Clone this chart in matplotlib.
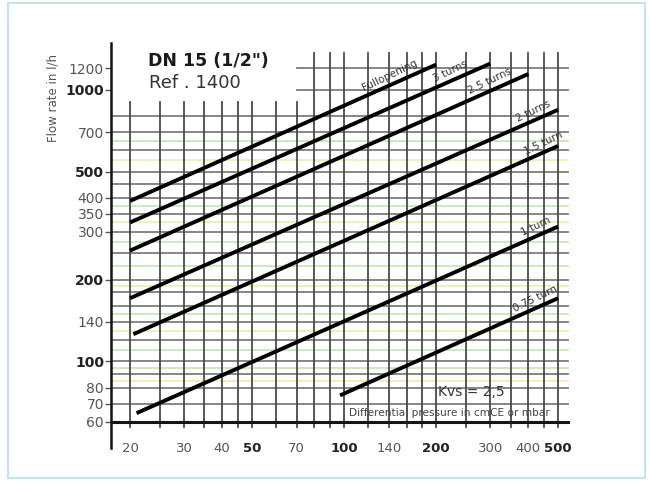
import numpy as np
import matplotlib
matplotlib.use("Agg")
import matplotlib.pyplot as plt
from matplotlib.patches import Rectangle
from matplotlib.transforms import blended_transform_factory

# ---- data ----
series_names = ["Fullopening", "3 turns", "2.5 turns", "2 turns", "1.5 turn", "1 turn", "0.75 turn"]
dp_full, q_full = [20, 200], [390, 1240]
dp_3, q_3 = [20, 300], [325, 1250]
dp_25, q_25 = [20, 400], [256, 1145]
dp_2, q_2 = [20, 500], [171, 845]
dp_15, q_15 = [20.5, 500], [126, 622]
dp_1, q_1 = [21, 500], [64.5, 314]
dp_075, q_075 = [97, 500], [75, 171]

x_ticks = [20, 30, 40, 50, 70, 100, 140, 200, 300, 400, 500]
x_bold = [50, 100, 200, 500]
y_ticks = [60, 70, 80, 100, 140, 200, 300, 350, 400, 500, 700, 1000, 1200]
y_bold = [100, 200, 500, 1000]

x_grid = [20, 25, 30, 35, 40, 45, 50, 60, 70, 80, 90, 100, 120, 140, 160, 180,
          200, 250, 300, 350, 400, 450, 500]
y_grid = [70, 80, 90, 100, 120, 140, 160, 180, 200, 250, 300, 350, 400, 450,
          500, 600, 700, 800]
y_grid_top = [1000, 1200]
y_faint_green = [95, 110, 150, 225, 275, 375, 650]
y_faint_yellow = [85, 130, 190, 325, 550]

label_x = [141, 223, 299, 414, 446, 422, 422]

series = [(dp_full, q_full), (dp_3, q_3), (dp_25, q_25), (dp_2, q_2),
          (dp_15, q_15), (dp_1, q_1), (dp_075, q_075)]

W, H = 650, 483
fig = plt.figure(figsize=(6.5, 4.83), dpi=100)
fig.patch.set_facecolor("white")
ax = fig.add_axes([111 / W, 1 - 448 / H, (570 - 111) / W, (448 - 43) / H])
ax.set_xscale("log")
ax.set_yscale("log")
ax.set_xlim(17.33, 547)
ax.set_ylim(48.0, 1489)
for s in ["top", "right", "bottom"]:
    ax.spines[s].set_visible(False)
ax.spines["left"].set_linewidth(1.8)
ax.spines["left"].set_color("#111111")

# faint coloured scan lines
for v in y_faint_green:
    ax.plot([17.33, 540], [v, v], color="#cfe8c0", lw=1.4, zorder=1)
for v in y_faint_yellow:
    ax.plot([17.33, 540], [v, v], color="#eef0b8", lw=1.4, zorder=1)

# horizontal grid
for v in y_grid:
    ax.plot([17.33, 540], [v, v], color="#7d7d7d", lw=1.3, zorder=2)
for v in y_grid_top:
    ax.plot([70, 540], [v, v], color="#7d7d7d", lw=1.3, zorder=2)

# vertical grid
for v in x_grid:
    top = 1369 if v >= 80 else 904
    ax.plot([v, v], [57.3, top], color="#4a4a4a", lw=1.3, zorder=2)

# bold pressure axis
ax.plot([17.33, 545], [60, 60], color="#151515", lw=2.2, zorder=3)

# flow lines
for (dp, q) in series:
    ax.plot(dp, q, color="black", lw=2.8, solid_capstyle="butt", zorder=4)

# curve labels
fig.canvas.draw()
for name, (dp, q), lx in zip(series_names, series, label_x):
    ly = 10 ** np.interp(np.log10(lx), np.log10(dp), np.log10(q))
    p1 = ax.transData.transform((dp[0], q[0]))
    p2 = ax.transData.transform((dp[-1], q[-1]))
    ang = np.degrees(np.arctan2(p2[1] - p1[1], p2[0] - p1[0]))
    ax.annotate(name, (lx, ly), xytext=(0, 7), textcoords="offset points",
                rotation=ang + 2, rotation_mode="anchor", ha="center", va="center",
                fontsize=7.5, color="#333333", zorder=5)

# y ticks
ax.set_yticks(y_ticks)
ax.set_yticklabels([str(v) for v in y_ticks])
ax.yaxis.set_minor_locator(matplotlib.ticker.NullLocator())
ax.tick_params(axis="y", length=4, width=1, color="#555555", pad=1,
               labelsize=10, labelcolor="#555555")
for lab, v in zip(ax.get_yticklabels(), y_ticks):
    if v in y_bold:
        lab.set_fontweight("bold")
        lab.set_color("#222222")

# x ticks drawn as text
ax.set_xticks([])
ax.xaxis.set_minor_locator(matplotlib.ticker.NullLocator())
trans = blended_transform_factory(ax.transData, ax.transAxes)
for v in x_ticks:
    b = v in x_bold
    ax.text(v, -0.0, str(v), transform=trans, ha="center", va="center",
            fontsize=9.5, fontweight="bold" if b else "normal",
            color="#222222" if b else "#555555")

# texts
fig.text(148 / W, 1 - 61.5 / H, 'DN 15 (1/2")', fontsize=12.5, fontweight="bold",
         color="#1a1a1a", ha="left", va="center")
fig.text(149 / W, 1 - 83 / H, "Ref . 1400", fontsize=13, color="#333333",
         ha="left", va="center")
fig.text(53 / W, 1 - 97.5 / H, "Flow rate in l/h", fontsize=8.5, color="#555555",
         rotation=90, ha="center", va="center")
fig.text(471 / W, 1 - 392 / H, "Kvs = 2,5", fontsize=10, color="#333333",
         ha="center", va="center")
fig.text(449 / W, 1 - 413 / H, "Differential pressure in cmCE or mbar", fontsize=7.6,
         color="#444444", ha="center", va="center")

# scan border
fig.patches.append(Rectangle((8 / W, 5 / H), (645 - 8) / W, (480 - 5) / H,
                             transform=fig.transFigure, fill=False,
                             edgecolor="#c4e4ea", lw=1.5))

fig.savefig("out.png", dpi=100, facecolor="white")
